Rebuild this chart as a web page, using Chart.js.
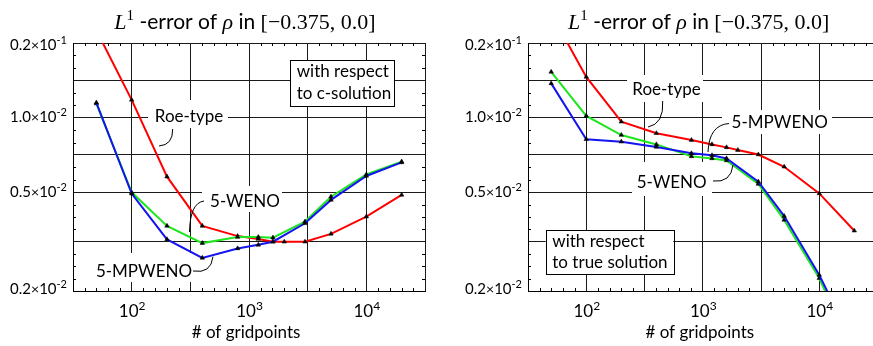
<!DOCTYPE html>
<html>
<head>
<meta charset="utf-8">
<script src="https://cdn.jsdelivr.net/npm/chart.js@4.4.1/dist/chart.umd.min.js"></script>
<style>
  html, body { margin: 0; padding: 0; background: #fff; overflow: hidden; }
  #wrap { position: relative; width: 873px; height: 346px; overflow: hidden; }
  #c1 { position: absolute; left: 0; top: 0; }
  #c2 { position: absolute; left: 436px; top: 0; }
</style>
</head>
<body>
<div id="wrap">
  <canvas id="c1" width="436" height="346"></canvas>
  <canvas id="c2" width="446" height="346"></canvas>
</div>
<script>
// grid sizes (# of gridpoints)
const nRoe = [50, 100, 200, 400, 800, 1200, 1600, 2000, 3000, 5000, 10000, 20000];
const nWeno = [50, 100, 200, 400, 800, 1200, 1600, 3000, 5000, 10000, 20000];

// L1 error with respect to c-solution (left panel)
const roeC = [0.0225, 0.0118, 0.00578, 0.00366, 0.00333, 0.00324, 0.00316, 0.00316, 0.00316, 0.0034, 0.00399, 0.00488];
const wenoC = [0.0114, 0.0050, 0.00366, 0.00312, 0.0033, 0.0033, 0.00328, 0.00381, 0.0048, 0.0059, 0.00665];
const mpwenoC = [0.0115, 0.00494, 0.00323, 0.00272, 0.00297, 0.00307, 0.00316, 0.00375, 0.00466, 0.00582, 0.0066];

// L1 error with respect to true solution (right panel)
const roeT = [0.0263, 0.0146, 0.00963, 0.00865, 0.00812, 0.0078, 0.00759, 0.0074, 0.0071, 0.00634, 0.00495, 0.0035];
const wenoT = [0.0153, 0.01016, 0.00851, 0.0078, 0.00698, 0.00685, 0.00672, 0.0054, 0.00387, 0.00225, 0.0011];
const mpwenoT = [0.01375, 0.00818, 0.008, 0.00762, 0.00718, 0.00705, 0.00685, 0.00552, 0.00401, 0.00232, 0.0012];

// axes: grid lines and labelled ticks
const xGrid = [Math.pow(10, 1.5), 100, Math.pow(10, 2.5), 1000, Math.pow(10, 3.5), 10000, Math.pow(10, 4.5)];
const xTickVals = [100, 1000, 10000];
const xTickExp = ['2', '3', '4'];
const yGrid = [0.002, Math.sqrt(0.002 * 0.005), 0.005, Math.sqrt(0.005 * 0.01), 0.01, Math.sqrt(0.01 * 0.02), 0.02];
const yTickVals = [0.002, 0.005, 0.01, 0.02];
const yTickMant = ['0.2', '0.5', '1.0', '0.2'];
const yTickExp = ['-2', '-2', '-2', '-1'];

const SANS = 'Lato, "DejaVu Sans", sans-serif';
const SERIF = '"Liberation Serif", "DejaVu Serif", serif';
const RED = '#ff0000', GREEN = '#1ee61e', BLUE = '#1414f0';

function pts(ns, vs) {
  return ns.map((n, i) => ({ x: n, y: vs[i] }));
}

function lineSet(label, data, color) {
  return {
    label: label,
    data: data,
    borderColor: color,
    borderWidth: 2,
    tension: 0,
    fill: false,
    pointStyle: 'triangle',
    pointRadius: 2.6,
    pointBackgroundColor: '#000',
    pointBorderColor: '#000',
    pointBorderWidth: 0.5
  };
}

// text runs: [text, font, raise]
function drawRuns(ctx, runs, cx, y) {
  let total = 0;
  runs.forEach(r => { ctx.font = r[1]; total += ctx.measureText(r[0]).width; });
  let x = cx - total / 2;
  ctx.textAlign = 'left';
  runs.forEach(r => {
    ctx.font = r[1];
    ctx.fillText(r[0], x, y - (r[2] || 0));
    x += ctx.measureText(r[0]).width;
  });
}

function decoPlugin(notes) {
  return {
    id: 'deco',
    beforeDatasetsDraw(chart) {
      const ctx = chart.ctx, a = chart.chartArea;
      ctx.save();
      ctx.fillStyle = '#fff';
      notes.labels.forEach(l => {
        const b = l.box;
        ctx.fillRect(a.left + b[0], a.top + b[1], b[2] - b[0], b[3] - b[1]);
      });
      const f = notes.frame.rect;
      ctx.fillRect(a.left + f[0], a.top + f[1], f[2] - f[0], f[3] - f[1]);
      ctx.strokeStyle = '#000';
      ctx.lineWidth = 1;
      ctx.strokeRect(Math.round(a.left + f[0]) + 0.5, Math.round(a.top + f[1]) + 0.5,
        Math.round(f[2] - f[0]), Math.round(f[3] - f[1]));
      ctx.restore();
    },
    afterDraw(chart) {
      const ctx = chart.ctx, a = chart.chartArea;
      const xs = chart.scales.x, ys = chart.scales.y;
      ctx.save();
      ctx.strokeStyle = '#000';
      ctx.fillStyle = '#000';
      ctx.lineWidth = 1;

      // minor ticks, 0.1 decade on x
      ctx.beginPath();
      for (let k = 15; k <= 45; k++) {
        if (k % 5 === 0) continue;
        const px = Math.round(xs.getPixelForValue(Math.pow(10, k / 10))) + 0.5;
        ctx.moveTo(px, a.top); ctx.lineTo(px, a.top + 3);
        ctx.moveTo(px, a.bottom); ctx.lineTo(px, a.bottom - 3);
      }
      for (let i = 0; i < yGrid.length - 1; i++) {
        const lo = Math.log10(yGrid[i]), hi = Math.log10(yGrid[i + 1]);
        const n = Math.round((hi - lo) / 0.05);
        for (let j = 1; j < n; j++) {
          const py = Math.round(ys.getPixelForValue(Math.pow(10, lo + (hi - lo) * j / n))) + 0.5;
          ctx.moveTo(a.left, py); ctx.lineTo(a.left + 3, py);
          ctx.moveTo(a.right, py); ctx.lineTo(a.right - 3, py);
        }
      }
      ctx.stroke();

      // y tick labels
      ctx.textBaseline = 'alphabetic';
      yTickVals.forEach((v, i) => {
        const py = ys.getPixelForValue(v);
        const dy = i === 0 ? 3 : (i === yTickVals.length - 1 ? 6.5 : 4.8);
        const runs = [[yTickMant[i], '15px ' + SANS], ['\u00d7', '14px ' + SANS], ['10', '15px ' + SANS], [yTickExp[i], '11px ' + SANS, 6]];
        let w = 0;
        runs.forEach(r => { ctx.font = r[1]; w += ctx.measureText(r[0]).width; });
        drawRuns(ctx, runs, a.left - 6 - w / 2, py + dy);
      });

      // x tick labels
      xTickVals.forEach((v, i) => {
        const px = xs.getPixelForValue(v);
        drawRuns(ctx, [['10', '17px ' + SANS], [xTickExp[i], '12px ' + SANS, 7]], px + 0.5, a.bottom + 25.7);
      });

      const cx = (a.left + a.right) / 2;
      // axis title
      drawRuns(ctx, [['# of gridpoints', '17px ' + SANS]], cx - 3, a.bottom + 47);

      // chart title
      drawRuns(ctx, [
        ['L', 'italic 22px ' + SERIF],
        ['1', '15px ' + SERIF, 9],
        [' -error of ', '21px ' + SANS],
        ['\u03c1', 'italic 22px ' + SERIF],
        [' in ', '21px ' + SANS],
        ['[\u22120.375, 0.0]', '22px ' + SERIF]
      ], cx - 4, a.top - 14);

      // annotations
      ctx.font = '17px ' + SANS;
      ctx.textAlign = 'center';
      notes.labels.forEach(l => {
        ctx.fillText(l.text, a.left + l.x, a.top + l.y);
        const p = l.lead;
        ctx.beginPath();
        ctx.moveTo(a.left + p[0][0], a.top + p[0][1]);
        ctx.quadraticCurveTo(a.left + p[1][0], a.top + p[1][1], a.left + p[2][0], a.top + p[2][1]);
        ctx.stroke();
      });
      const fr = notes.frame;
      ctx.textAlign = 'left';
      fr.lines.forEach((t, i) => ctx.fillText(t, a.left + fr.x, a.top + fr.y[i]));
      ctx.restore();
    }
  };
}

function makeChart(id, pad, roe, weno, mpweno, notes) {
  return new Chart(document.getElementById(id), {
    type: 'line',
    data: {
      datasets: [
        lineSet('5-MPWENO', pts(nWeno, mpweno), BLUE),
        lineSet('5-WENO', pts(nWeno, weno), GREEN),
        lineSet('Roe-type', pts(nRoe, roe), RED)
      ]
    },
    options: {
      responsive: false,
      animation: false,
      devicePixelRatio: 1,
      layout: { padding: { left: pad[0], right: pad[1], top: 43, bottom: 55 } },
      plugins: { legend: { display: false }, tooltip: { enabled: false }, title: { display: false } },
      scales: {
        x: {
          type: 'logarithmic',
          min: xGrid[0],
          max: xGrid[xGrid.length - 1],
          afterBuildTicks: s => { s.ticks = xGrid.map(v => ({ value: v })); },
          afterFit: s => { s.height = 0; },
          ticks: { display: false },
          grid: { color: '#1a1a1a', lineWidth: 1, drawTicks: false },
          border: { display: true, color: '#000', width: 1 }
        },
        y: {
          type: 'logarithmic',
          min: yGrid[0],
          max: yGrid[yGrid.length - 1],
          afterBuildTicks: s => { s.ticks = yGrid.map(v => ({ value: v })); },
          afterFit: s => { s.width = 0; },
          ticks: { display: false },
          grid: { color: '#1a1a1a', lineWidth: 1, drawTicks: false },
          border: { display: true, color: '#000', width: 1 }
        }
      }
    },
    plugins: [decoPlugin(notes)]
  });
}

makeChart('c1', [73, 11], roeC, wenoC, mpwenoC, {
  labels: [
    { text: 'Roe-type', x: 116, y: 79, box: [75, 57, 155, 85], lead: [[99.7, 86], [100, 102], [86, 103]] },
    { text: '5-WENO', x: 172, y: 163.7, box: [129, 143, 209, 169], lead: [[131, 158], [117, 160], [116.5, 189]] },
    { text: '5-MPWENO', x: 71, y: 234.3, box: [19, 210, 123, 239], lead: [[120, 228], [138, 231], [140, 213.7]] }
  ],
  frame: { rect: [217, 17, 321, 63], lines: ['with respect', 'to c-solution'], x: 223.7, y: [34.3, 55.7] }
});

makeChart('c2', [92, 2], roeT, wenoT, mpwenoT, {
  labels: [
    { text: 'Roe-type', x: 138.5, y: 52, box: [99, 32, 175, 59], lead: [[134.7, 58], [136, 81], [120, 84]] },
    { text: '5-MPWENO', x: 251.7, y: 85.3, box: [194, 67, 304, 91], lead: [[201, 80.5], [181, 82], [180, 109]] },
    { text: '5-WENO', x: 143.7, y: 145.3, box: [104, 119, 184, 153], lead: [[185, 138], [203, 140], [205, 122]] }
  ],
  frame: { rect: [17.7, 187, 145.3, 231], lines: ['with respect', 'to true solution'], x: 24.3, y: [204.3, 225.3] }
});
</script>
</body>
</html>
